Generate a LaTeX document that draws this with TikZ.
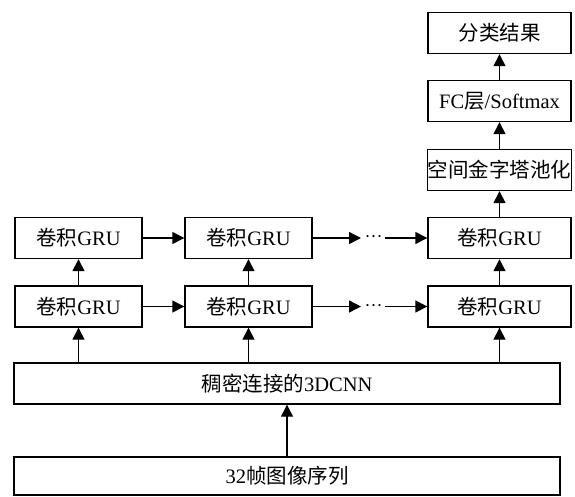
\documentclass[tikz,border=0pt]{standalone}
\usepackage{fontspec}
\setmainfont{Liberation Serif}
\newfontfamily\cjk{Noto Sans CJK SC}
\usetikzlibrary{arrows.meta}
\begin{document}
\begin{tikzpicture}[x=1pt,y=-1pt,
  box/.style={draw,line width=1.4pt,inner sep=0pt,minimum height=41pt,
    font=\fontsize{20.5}{22}\selectfont},
  gru/.style={box,minimum width=127pt},
  rbox/.style={box,minimum width=143pt},
  arr/.style={line width=1.4pt,-{Triangle[length=12pt,width=12pt]}},
  dotsnode/.style={inner sep=0pt,font=\fontsize{18}{20}\selectfont}]
\useasboundingbox (0,0) rectangle (575,496);
% bottom boxes
\node[box,minimum width=546pt,minimum height=38pt] (in) at (287,476) {32{\cjk 帧图像序列}};
\node[box,minimum width=546pt] (cnn) at (287,383.5) {{\cjk 稠密连接的}3DCNN};
% lower GRU row
\node[gru] (a1) at (78.5,306.5) {{\cjk 卷积}GRU};
\node[gru] (b1) at (248.5,306.5) {{\cjk 卷积}GRU};
\node[rbox] (c1) at (499.5,306.5) {{\cjk 卷积}GRU};
% upper GRU row
\node[gru] (a2) at (78.5,238) {{\cjk 卷积}GRU};
\node[gru] (b2) at (248.5,238) {{\cjk 卷积}GRU};
\node[rbox] (c2) at (499.5,238) {{\cjk 卷积}GRU};
% right column
\node[rbox] (spp) at (499.5,170) {{\cjk 空间金字塔池化}};
\node[rbox] (fc) at (499.5,101) {FC{\cjk 层}/Softmax};
\node[rbox] (out) at (499.5,33) {{\cjk 分类结果}};
% dots
\node[dotsnode] (d1) at (373.5,307.5) {···};
\node[dotsnode] (d2) at (373.5,239) {···};
\coordinate (d1a) at (361,306.5);
\coordinate (d1b) at (385,306.5);
\coordinate (d2a) at (361,238);
\coordinate (d2b) at (385,238);
% arrows
\draw[arr] (in) -- (cnn);
\draw[arr] (cnn.north -| a1) -- (a1);
\draw[arr] (cnn.north -| b1) -- (b1);
\draw[arr] (cnn.north -| c1) -- (c1);
\draw[arr] (a1) -- (a2);
\draw[arr] (b1) -- (b2);
\draw[arr] (c1) -- (c2);
\draw[arr] (a1) -- (b1);
\draw[arr] (a2) -- (b2);
\draw[arr] (b1.east) -- (d1a);
\draw[arr] (b2.east) -- (d2a);
\draw[arr] (d1b) -- (c1.west);
\draw[arr] (d2b) -- (c2.west);
\draw[arr] (c2) -- (spp);
\draw[arr] (spp) -- (fc);
\draw[arr] (fc) -- (out);
\end{tikzpicture}
\end{document}
